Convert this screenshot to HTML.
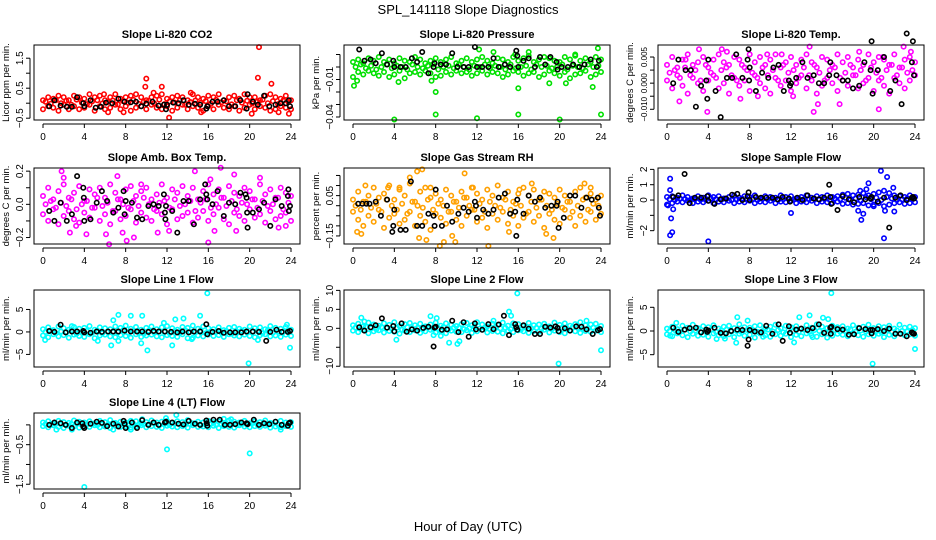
<!DOCTYPE html>
<html><head><meta charset="utf-8"><style>
body{margin:0;background:#fff}
svg{display:block;font-family:"Liberation Sans",Arial,sans-serif}
</style></head><body>
<svg id="chart" width="936" height="540" viewBox="0 0 936 540" xmlns="http://www.w3.org/2000/svg">
<rect width="936" height="540" fill="#fff"/>
<text x="468" y="14" text-anchor="middle" font-size="13">SPL_141118  Slope Diagnostics</text>
<text x="468" y="531" text-anchor="middle" font-size="13">Hour of Day (UTC)</text>
</svg>
<script>
const bandHours=[0,0.5,1,1.5,2,2.5,3,3.5,4,4.5,5,5.5,6,6.5,7,7.5,8,8.5,9,9.5,10,10.5,11,11.5,12,12.5,13,13.5,14,14.5,15,15.5,16,16.5,17,17.5,18,18.5,19,19.5,20,20.5,21,21.5,22,22.5,23,23.5,24];
const midHours=[0.25,0.75,1.25,1.75,2.25,2.75,3.25,3.75,4.25,4.75,5.25,5.75,6.25,6.75,7.25,7.75,8.25,8.75,9.25,9.75,10.25,10.75,11.25,11.75,12.25,12.75,13.25,13.75,14.25,14.75,15.25,15.75,16.25,16.75,17.25,17.75,18.25,18.75,19.25,19.75,20.25,20.75,21.25,21.75,22.25,22.75,23.25,23.75];
const xTicks=[0,4,8,12,16,20,24];

// CO2
const co2A=[0.1,0.2,0.15,0.25,0.2,0.1,0.25,0.2,0.15,0.3,0.2,0.25,0.1,0.2,0.3,0.15,0.2,0.25,0.3,0.2,0.1,0.2,0.25,0.3,0.15,0.2,0.25,0.2,0.1,0.3,0.2,0.15,0.25,0.2,0.3,0.1,0.2,0.25,0.15,0.3,0.2,0.2,0.1,0.25,0.3,0.2,0.15,0.25,0.1];
const co2B=[-0.2,-0.1,-0.15,-0.25,-0.05,-0.2,-0.1,-0.2,-0.15,-0.05,-0.25,-0.1,-0.2,-0.15,-0.05,-0.2,-0.1,-0.25,-0.15,-0.1,-0.2,-0.05,-0.15,-0.2,-0.1,-0.25,-0.15,-0.05,-0.2,-0.1,-0.15,-0.25,-0.1,-0.2,-0.05,-0.15,-0.2,-0.1,-0.25,-0.15,-0.05,-0.2,-0.1,-0.15,-0.25,-0.2,-0.1,-0.15,-0.2];
const co2C=[0.05,-0.02,0.1,0,0.08,-0.05,0.12,0.02,-0.03,0.06,0.1,-0.01,0.04,0.09,-0.04,0.07,0.01,0.11,-0.02,0.05,0.08,0,0.12,-0.03,0.06,0.02,0.1,-0.05,0.04,0.09,0.01,0.07,-0.02,0.11,0.03,0.06,-0.04,0.1,0.02,0.08,-0.01,0.05,0.12,0,0.07,-0.03,0.09,0.04];
const co2Out=[[10,0.82],[9.9,0.55],[11.5,0.55],[10.7,0.35],[14.3,0.35],[12.2,-0.48],[20.9,1.87],[20.8,0.85],[22.1,0.65],[20.2,-0.35],[23.8,-0.35],[6.3,-0.3],[15.3,-0.3],[22.8,-0.3],[5.9,0.3],[7.8,-0.3]];
const co2Blk=[[0.6,-0.1],[1.1,0.1],[1.7,-0.08],[2.3,-0.12],[2.8,-0.12],[3.3,0.2],[3.9,0],[4,-0.1],[4.6,0.1],[5.1,-0.15],[5.6,-0.12],[6.1,0.02],[6.7,0],[7.3,0.15],[7.9,0.05],[8.5,0.03],[9,0.05],[9.5,-0.1],[10,-0.02],[10.6,0.05],[11.2,-0.08],[11.7,-0.05],[11.9,-0.2],[12,-0.05],[12.6,0.02],[13.1,0],[13.6,0.1],[14.1,-0.05],[14.7,-0.02],[15.2,-0.05],[15.8,-0.18],[15.9,-0.1],[16.4,0.05],[16.9,0.05],[17.5,0.1],[18,-0.1],[18.6,-0.1],[19.1,0.1],[19.7,-0.18],[19.8,0.3],[20.3,0.05],[20.8,-0.05],[21.4,0.25],[21.9,-0.1],[22.5,-0.05],[23,0],[23.5,0],[23.8,0.1],[23.9,-0.1]];
// Pressure
const presA=[0.004,0.006,0.003,0.007,0.005,0.008,0.004,0.006,0.003,0.007,0.005,0.004,0.008,0.006,0.003,0.005,0.007,0.004,0.006,0.008,0.003,0.005,0.007,0.004,0.006,0.008,0.005,0.003,0.007,0.006,0.004,0.008,0.005,0.007,0.009,0.004,0.006,0.008,0.007,0.005,0.004,0.008,0.006,0.009,0.005,0.007,0.004,0.008,0.006];
const presB=[-0.008,-0.004,-0.006,-0.003,-0.005,-0.007,-0.004,-0.008,-0.006,-0.003,-0.009,-0.005,-0.004,-0.006,-0.003,-0.005,-0.008,-0.007,-0.004,-0.006,-0.003,-0.005,-0.004,-0.007,-0.005,-0.003,-0.006,-0.004,-0.005,-0.008,-0.006,-0.003,-0.004,-0.007,-0.005,-0.004,-0.008,-0.006,-0.003,-0.005,-0.007,-0.004,-0.009,-0.006,-0.005,-0.003,-0.008,-0.006,-0.004];
const presC=[0,0.002,-0.001,0.001,-0.002,0,0.002,-0.001,0.001,0,-0.002,0.002,0,-0.001,0.001,0.002,-0.002,0,0.001,-0.001,0.002,0,-0.002,0.001,0,0.002,-0.001,0.001,0,-0.002,0.002,-0.001,0,0.001,-0.002,0.002,0,0.001,-0.001,0,0.002,-0.002,0.001,0,-0.001,0.002,0,0.001];
const presOut=[[0.1,-0.015],[4,-0.042],[8,-0.038],[8,-0.02],[12,-0.041],[16,-0.038],[16,-0.017],[20,-0.042],[24,-0.038],[23.2,-0.016],[20.6,-0.013],[19,-0.013],[12.2,0.014],[17,0.012],[23.7,0.015],[13.6,0.012],[21.5,0.01],[7.6,-0.011],[15.7,0.01],[0.4,-0.011],[4.4,-0.012]];
const presBlk=[[0.6,0.014],[1.1,0.005],[1.7,0.006],[2.2,0.003],[2.8,0.011],[3.3,0.002],[3.9,0.005],[4,0],[4.6,0],[5.1,0],[5.7,0.007],[6.2,0.004],[6.7,0.012],[7.3,-0.005],[7.8,0],[7.9,0.003],[8.5,0.002],[9,0.002],[9.6,0.011],[10.1,0],[10.7,0],[11.2,0],[11.8,0.016],[12,0],[12.5,0],[13.1,0],[13.6,0.007],[14.1,0],[14.7,0.002],[15.2,0],[15.8,0.013],[15.9,0.009],[16,0],[16.5,0.005],[17,0.007],[17.6,0],[18.1,0.008],[18.6,0.002],[19.1,0.008],[19.7,0.004],[19.8,-0.002],[20.2,0],[20.8,0],[21.3,0.002],[21.9,0],[22.4,0.002],[23,0.006],[23.6,0],[23.8,0.005]];
// Li-820 Temp
const tempA=[0.002,0.005,0.001,0.004,0.006,0.002,0.003,0.005,0.001,0.004,0.006,0.003,0.002,0.005,0.004,0.001,0.006,0.003,0.005,0.002,0.004,0.006,0.001,0.003,0.005,0.002,0.004,0.006,0.003,0.001,0.005,0.004,0.002,0.006,0.003,0.005,0.001,0.004,0.002,0.006,0.003,0.005,0.004,0.002,0.006,0.001,0.004,0.005,0.003];
const tempB=[-0.004,-0.007,-0.002,-0.006,-0.009,-0.003,-0.005,-0.008,-0.004,-0.002,-0.007,-0.005,-0.009,-0.003,-0.006,-0.004,-0.008,-0.002,-0.005,-0.007,-0.009,-0.003,-0.006,-0.004,-0.008,-0.005,-0.002,-0.007,-0.004,-0.009,-0.006,-0.003,-0.005,-0.008,-0.004,-0.006,-0.002,-0.007,-0.005,-0.003,-0.008,-0.004,-0.006,-0.009,-0.003,-0.005,-0.007,-0.004,-0.002];
const tempC=[-0.001,0,-0.003,0.001,-0.002,0,-0.004,0.002,-0.001,-0.003,0,0.001,-0.002,-0.004,0.002,0,-0.001,-0.003,0.001,-0.002,0,-0.004,0.002,-0.001,0,-0.003,0.001,-0.002,0.002,-0.001,-0.004,0,0.001,-0.003,-0.001,0.002,-0.002,0,-0.004,0.001,-0.001,-0.003,0,0.002,-0.002,0.001,-0.001,0];
const tempOut=[[1.2,-0.012],[3.1,0.008],[3.9,-0.016],[5.3,0.008],[5.8,0.007],[7.1,-0.011],[9.7,0.006],[11.1,0.006],[13.8,0.009],[14.2,-0.016],[14.6,-0.013],[16.7,-0.013],[18.6,0.007],[20.5,-0.015],[22.9,0.009],[23.6,0.007],[20.9,0.005],[1.8,0.004],[12.2,-0.01],[8.8,-0.01]];
const tempBlk=[[0.6,-0.005],[1.1,0.004],[1.8,0],[2.3,0],[2.8,-0.014],[3.3,-0.006],[3.8,-0.004],[3.9,-0.011],[4,0.004],[4.7,-0.008],[5.2,-0.018],[5.8,-0.003],[6.3,-0.003],[6.7,0.006],[7.3,-0.003],[7.8,0.004],[7.9,0.008],[7.95,-0.004],[8,0.001],[8.6,-0.008],[9.2,-0.001],[9.8,-0.003],[10.3,0.001],[10.8,0.002],[11.3,-0.008],[11.8,-0.004],[11.9,-0.006],[12,-0.005],[12.5,-0.003],[13.1,0.003],[13.6,-0.003],[14.2,-0.002],[14.7,-0.005],[15.2,-0.005],[15.7,-0.002],[15.8,0.003],[16.4,-0.002],[17,-0.004],[17.5,-0.004],[18,-0.007],[18.6,-0.006],[19.1,0.003],[19.7,0],[19.8,0.011],[19.9,-0.009],[20.4,0],[21,0.005],[21.6,-0.008],[22.1,-0.004],[22.7,-0.013],[23.2,0.014],[23.7,0.003],[23.8,0.011],[23.9,-0.002]];
// Amb Box Temp
const ambA=[0.05,0.1,0.03,0.08,0.12,0.04,0.07,0.11,0.02,0.09,0.06,0.1,0.04,0.12,0.07,0.03,0.09,0.11,0.05,0.08,0.1,0.03,0.06,0.12,0.04,0.09,0.07,0.11,0.05,0.1,0.03,0.08,0.12,0.06,0.09,0.04,0.11,0.07,0.05,0.1,0.08,0.03,0.12,0.06,0.09,0.04,0.1,0.07,0.05];
const ambB=[-0.06,-0.1,-0.03,-0.12,-0.07,-0.04,-0.09,-0.11,-0.05,-0.08,-0.02,-0.1,-0.06,-0.12,-0.04,-0.09,-0.07,-0.03,-0.11,-0.05,-0.08,-0.1,-0.04,-0.06,-0.12,-0.03,-0.09,-0.07,-0.05,-0.11,-0.08,-0.04,-0.1,-0.06,-0.02,-0.09,-0.12,-0.05,-0.07,-0.1,-0.03,-0.08,-0.06,-0.11,-0.04,-0.09,-0.07,-0.05,-0.1];
const ambC=[0,0.02,-0.02,0.01,-0.01,0.03,-0.03,0,0.02,-0.02,0.04,-0.01,0.01,-0.04,0.03,0,-0.02,0.02,-0.01,0.04,0,-0.03,0.01,0.02,-0.02,0.03,-0.01,0,0.02,-0.04,0.01,0.03,-0.02,0,0.04,-0.01,0.02,-0.03,0.01,0,0.03,-0.02,0.02,-0.01,0,0.04,-0.03,0.01];
const ambOut=[[1.8,0.2],[2,0.16],[2.6,-0.17],[3.2,-0.13],[4.2,-0.18],[6.1,-0.18],[6.4,-0.24],[7.2,0.17],[7.7,-0.17],[8.1,-0.22],[8.8,-0.2],[9.5,0.12],[11.1,-0.17],[12.2,-0.16],[14.7,0.2],[16,-0.23],[16.2,0.15],[17.2,0.22],[18.5,0.18],[18.7,-0.16],[21,0.16],[22.8,-0.14],[23.5,-0.13],[16.6,-0.16]];
const ambBlk=[[0.6,-0.04],[1.1,-0.1],[1.7,0.01],[2.3,-0.1],[2.8,-0.06],[3.3,0.17],[3.9,0.1],[3.95,0.04],[4,-0.1],[4.6,-0.09],[5.2,0.01],[5.7,0.08],[6.2,0.02],[6.8,-0.05],[7.3,-0.02],[7.8,0.08],[7.9,-0.06],[8,0.02],[8.6,0.01],[9.1,-0.08],[9.6,-0.09],[10.2,-0.01],[10.7,0],[11.2,-0.01],[11.7,0.06],[11.8,-0.05],[11.85,-0.09],[11.9,-0.01],[12.5,-0.04],[13,-0.17],[13.6,0.02],[14.1,0.02],[14.6,-0.12],[15.2,0.03],[15.7,0.12],[15.8,0.06],[15.9,0.03],[16.4,0],[16.9,0.08],[17.5,-0.07],[18,0.01],[18.6,0],[19.1,0.07],[19.6,0.06],[19.7,0.04],[19.75,-0.05],[19.8,-0.14],[20.3,-0.05],[20.9,-0.03],[21.4,0.01],[22,-0.13],[22.5,0.03],[23.1,-0.01],[23.7,0.05],[23.75,0.09],[23.8,-0.04],[23.9,-0.01]];
// Gas stream RH
const rhA=[0.03,0.07,0.02,0.05,0.09,0.04,0.06,0.1,0.03,0.08,0.05,0.11,0.02,0.07,0.09,0.04,0.06,0.03,0.08,0.05,0.02,0.07,0.04,0.09,0.06,0.03,0.08,0.05,0.1,0.04,0.07,0.02,0.06,0.09,0.05,0.08,0.03,0.07,0.06,0.04,0.08,0.05,0.02,0.07,0.09,0.04,0.06,0.03,0.05];
const rhB=[-0.03,-0.07,-0.1,-0.05,-0.08,-0.02,-0.11,-0.06,-0.04,-0.09,-0.07,-0.03,-0.1,-0.05,-0.08,-0.12,-0.04,-0.06,-0.09,-0.03,-0.07,-0.1,-0.05,-0.02,-0.08,-0.06,-0.11,-0.04,-0.07,-0.03,-0.09,-0.05,-0.1,-0.06,-0.03,-0.08,-0.05,-0.11,-0.04,-0.07,-0.09,-0.02,-0.06,-0.1,-0.05,-0.08,-0.03,-0.07,-0.04];
const rhC=[0,-0.02,0.02,-0.01,0.01,-0.03,0.03,0,-0.02,0.01,-0.04,0.02,0,-0.01,0.03,-0.02,0.01,0,-0.03,0.02,-0.01,0.04,0,-0.02,0.01,-0.03,0.02,0,-0.01,0.03,-0.02,0.01,0,-0.04,0.02,-0.01,0.03,0,-0.02,0.01,-0.01,0.02,-0.03,0,0.03,-0.02,0.01,0];
const rhOut=[[0.4,-0.13],[0.8,-0.14],[1.2,0.1],[3.4,0.09],[4.5,0.09],[5.5,0.14],[6.2,0.17],[6.7,0.18],[6.4,-0.16],[7.1,-0.17],[7.5,0.09],[8.4,-0.2],[8.8,-0.18],[9.6,-0.15],[9.9,-0.18],[10.8,0.16],[11.6,0.09],[13.1,-0.2],[15.1,-0.13],[16.1,0.08],[17.3,0.11],[18.7,-0.14],[19.4,-0.16],[22.4,0.11],[23,0.09]];
const rhBlk=[[0.5,0.01],[0.9,0.01],[1.3,0.01],[1.6,0.01],[2.2,0.02],[2.7,-0.05],[3.3,0.03],[3.8,-0.13],[3.9,-0.1],[4,-0.02],[4.6,-0.12],[5.1,-0.12],[5.6,0.12],[6.2,-0.1],[6.7,-0.1],[7.3,-0.04],[7.8,-0.05],[7.9,-0.1],[8,0.08],[8.6,-0.1],[9.1,0],[9.6,-0.08],[10.2,-0.04],[10.7,-0.01],[11.2,-0.03],[11.8,0.02],[11.9,0],[12,-0.06],[12.6,-0.02],[13.1,-0.04],[13.6,-0.02],[14.1,0.04],[14.7,0.06],[15.2,-0.04],[15.7,-0.03],[15.8,-0.15],[15.9,0.03],[16.5,-0.04],[17,0.05],[17.6,0.02],[18.1,0.04],[18.6,-0.01],[19.2,0],[19.7,0],[19.8,0.02],[19.9,-0.11],[20.4,-0.06],[21,0.05],[21.5,0.05],[22.1,-0.01],[22.6,0.04],[23.1,0.03],[23.7,0.04],[23.8,-0.01],[23.9,-0.05]];
// Sample Flow
const sfA=[0.2,0.25,0.15,0.3,0.2,0.1,0.25,0.15,0.3,0.2,0.25,0.1,0.2,0.3,0.15,0.25,0.2,0.3,0.1,0.25,0.2,0.15,0.3,0.2,0.25,0.1,0.2,0.3,0.15,0.25,0.2,0.3,0.2,0.25,0.35,0.4,0.3,0.35,0.45,0.3,0.4,0.5,0.6,0.45,0.3,0.25,0.2,0.3,0.2];
const sfB=[-0.3,-0.2,-0.1,-0.15,-0.05,-0.2,-0.1,-0.15,-0.05,-0.2,-0.1,-0.15,-0.05,-0.2,-0.1,-0.15,-0.05,-0.2,-0.1,-0.15,-0.05,-0.2,-0.1,-0.15,-0.05,-0.2,-0.1,-0.15,-0.05,-0.2,-0.1,-0.15,-0.2,-0.1,-0.25,-0.2,-0.3,-0.25,-0.2,-0.35,-0.3,-0.2,-0.4,-0.3,-0.2,-0.15,-0.25,-0.2,-0.15];
const sfC=[0.05,0,0.1,0.05,0,0.08,0.03,0,0.1,0.05,0.02,0.07,0,0.05,0.1,0.02,0.06,0,0.08,0.04,0.1,0,0.05,0.07,0.02,0.09,0,0.05,0.1,0.03,0.06,0,0.1,0.05,0.15,0,0.1,-0.05,0.2,0.05,0.15,0,0.2,0.1,0,0.05,0.1,0.05];
const sfOut=[[0.3,1.4],[0.3,0.65],[0.4,-1.2],[0.3,-2.3],[0.5,-2.1],[0.6,-0.6],[4,-2.7],[12,-0.85],[18.5,-0.7],[18.8,-1.3],[19,-0.9],[19.3,0.7],[19.5,1.1],[20.7,1.9],[21.3,1.5],[21,-2.5],[21.9,0.8],[21.1,-0.7],[22,-0.75],[18.7,0.6],[0.1,-0.35],[20,-0.4]];
const sfBlk=[[0.6,0.2],[1.1,0.3],[1.7,1.7],[2.2,-0.2],[2.7,0.15],[3.3,0.15],[3.9,0.25],[4,-0.05],[4.6,-0.25],[5.2,0.05],[5.7,0.1],[6.3,0.35],[6.8,0.4],[7.3,0],[7.8,0.25],[7.9,0.5],[8,0],[8.6,0.2],[9.1,0.15],[9.6,0.15],[10.2,0.15],[10.7,0.05],[11.2,0.2],[11.8,0.1],[11.9,-0.1],[12.6,0.15],[13.1,0],[13.6,0.3],[14.2,0.1],[14.7,0.05],[15.2,0.15],[15.7,1.0],[15.8,0.2],[15.9,-0.25],[16.5,-0.65],[17,0.25],[17.6,0.05],[18.1,-0.15],[18.6,0.2],[19.2,0.05],[19.7,0.1],[19.8,0.2],[20.4,-0.1],[21,0.15],[21.5,-1.8],[22.1,0.15],[22.6,0.3],[23.2,0],[23.7,0.15],[23.8,0.2],[23.9,0.1]];
// Line 1 Flow
const l1A=[0.6,1.0,0.4,1.2,0.8,0.5,1.1,0.7,0.9,1.3,0.5,1.0,0.8,0.6,1.2,0.9,1.4,0.7,1.1,0.5,0.9,1.2,0.6,1.0,1.3,0.8,0.5,1.1,0.9,1.4,0.7,1.2,0.8,0.6,1.0,0.4,0.9,1.1,0.7,0.5,1.2,0.8,1.0,0.6,1.3,0.9,0.7,1.1,0.5];
const l1B=[-0.8,-1.2,-0.5,-1.0,-0.7,-1.3,-0.6,-0.9,-1.1,-0.5,-1.4,-0.8,-0.6,-1.0,-1.2,-0.7,-0.9,-1.3,-0.5,-1.1,-0.8,-0.6,-1.0,-1.2,-0.7,-0.9,-1.1,-0.5,-1.4,-1.3,-0.8,-1.0,-0.6,-0.9,-0.7,-1.1,-0.5,-0.8,-1.0,-0.6,-0.9,-1.2,-0.7,-0.5,-1.0,-0.8,-1.1,-0.6,-0.9];
const l1C=[0,0.3,-0.3,0.1,-0.1,0.4,-0.4,0,0.2,-0.2,0.3,-0.3,0.1,0,-0.1,0.4,-0.2,0.2,0,-0.4,0.3,-0.1,0.1,0,-0.3,0.2,-0.2,0.4,0,-0.1,0.3,-0.3,0.1,0,-0.2,0.2,-0.4,0.1,0.3,-0.1,0,0.2,-0.3,0.4,-0.2,0.1,0,-0.1];
const l1Out=[[0.2,-1.8],[6.8,2.6],[7.3,3.8],[8.5,3.6],[9.6,3.6],[9.5,-2.5],[10.1,-4.1],[7.3,-2],[5.3,-2],[6.6,-3],[12.5,-3],[12.8,2.8],[13.6,3],[15.2,3.6],[15.9,8.6],[19.9,-7],[23.9,-3.5],[20.8,-1.8],[23.6,1.6],[11.7,2],[2.8,1.3],[14.4,-1.6]];
const l1Blk=[[0.6,0.2],[1.1,0],[1.7,1.6],[2.2,-0.1],[2.8,0.1],[3.3,0.1],[3.9,0.2],[4,-0.1],[4.6,-0.2],[5.2,0.1],[5.7,0],[6.3,0.1],[6.8,0.1],[7.3,0.1],[7.9,0.3],[8.5,0.1],[9.1,0.1],[9.6,0.1],[10.2,0],[10.7,0.2],[11.2,0.1],[11.8,0.1],[12.4,0],[13,-0.1],[13.5,0.1],[14.1,-0.1],[14.6,0.1],[15.2,0.1],[15.8,1.7],[15.9,-0.5],[16.4,0],[17,0.2],[17.5,-0.2],[18.1,-0.1],[18.6,-0.1],[19.2,-0.1],[19.7,0.1],[20.3,0.1],[20.9,0],[21.6,-2],[22,0],[22.6,0.5],[23.1,0],[23.7,0],[23.9,0.2]];
// Line 2 Flow
const l2A=[0.8,1.2,0.5,1.5,1.0,0.7,1.3,0.9,1.6,0.6,1.1,1.4,0.8,1.2,0.5,1.0,1.5,0.7,1.3,0.9,0.6,1.1,1.4,0.8,1.6,1.0,0.5,1.2,0.9,1.5,0.7,1.3,1.1,0.6,1.4,0.8,1.0,1.2,0.5,1.5,0.9,1.3,0.7,1.1,1.6,0.8,1.0,1.2,0.6];
const l2B=[-0.6,-1.0,-0.4,-1.3,-0.8,-0.5,-1.1,-0.7,-0.9,-1.4,-0.6,-1.0,-0.5,-1.2,-0.8,-0.4,-1.1,-0.7,-1.3,-0.6,-0.9,-1.0,-0.5,-1.2,-0.8,-0.4,-1.1,-0.7,-0.9,-1.3,-0.6,-1.0,-0.5,-0.8,-1.2,-0.7,-0.9,-0.4,-1.1,-0.6,-1.0,-1.3,-0.5,-0.8,-1.2,-0.7,-0.9,-0.6,-1.0];
const l2C=[0.2,-0.2,0.4,0,-0.3,0.3,0.1,-0.1,0.2,-0.4,0.3,0,0.1,-0.2,0.4,-0.1,0,0.3,-0.3,0.2,0.1,-0.2,0,0.4,-0.1,0.2,-0.3,0.3,0,0.1,-0.2,0.2,-0.4,0.3,0,0.1,-0.1,0.4,-0.2,0,0.2,-0.3,0.3,0.1,-0.1,0,0.2,-0.2];
const l2Out=[[0.8,2.8],[4.2,-3],[7.5,3.2],[8.1,2.7],[9.3,-3.8],[10.1,-4.1],[10.3,-3.4],[15.1,4.4],[15.3,3.3],[15.9,9.2],[19.9,-9.3],[24,-5.8],[7.8,-1.8],[1.1,1.8],[13.6,2],[22.6,2],[8.5,-2]];
const l2Blk=[[0.6,0.3],[1.1,-0.6],[1.7,0.3],[2.2,0.8],[2.8,2.6],[3.3,0.2],[3.9,0.6],[4,-0.8],[4.7,1.3],[5.2,-0.9],[5.7,-0.3],[6.2,-0.6],[6.8,0.1],[7.3,0.4],[7.8,-4.8],[7.9,0.2],[8,0.4],[8.6,-0.4],[9.1,-0.3],[9.6,2],[10.2,-1],[10.7,1.6],[11.2,-2.2],[11.8,1.3],[11.9,-0.3],[12.5,-0.4],[13.1,1.1],[13.6,-0.2],[14.1,1],[14.6,3.3],[15.1,-1.8],[15.7,1.1],[15.8,0.3],[15.9,-0.4],[16.5,0.8],[17,-0.1],[17.6,-1.5],[18.1,-1.5],[18.6,0.4],[19.1,0.2],[19.6,0.5],[19.8,0.1],[19.9,-0.8],[20.5,0],[21,-0.6],[21.6,0.5],[22.1,0.4],[22.6,-0.3],[23.2,-1.5],[23.7,-0.5],[23.9,-0.2]];
// Line 3 Flow
const l3A=[0.5,0.9,0.4,1.1,0.7,1.3,0.6,1.0,0.8,1.2,0.5,0.9,1.1,0.6,1.4,0.8,0.7,1.0,1.2,0.5,0.9,1.3,0.6,1.1,0.8,1.0,0.5,1.2,0.7,1.4,0.9,0.6,1.1,0.8,1.0,0.5,1.2,0.7,0.9,1.3,0.6,1.0,0.8,1.1,0.5,1.3,0.7,0.9,0.6];
const l3B=[-0.7,-1.1,-0.5,-0.9,-1.3,-0.6,-1.0,-0.8,-1.2,-0.5,-0.9,-1.1,-0.7,-1.3,-0.6,-1.0,-0.8,-1.4,-0.5,-0.9,-1.2,-0.7,-1.0,-0.6,-1.3,-0.8,-1.1,-0.5,-0.9,-1.2,-0.7,-1.4,-1.0,-0.6,-0.8,-1.1,-0.5,-0.9,-1.2,-0.7,-1.0,-0.6,-1.3,-0.8,-1.1,-0.5,-0.9,-0.7,-1.0];
const l3C=[0,0.2,-0.2,0.3,-0.1,0.1,-0.3,0,0.2,-0.2,0.1,0.3,-0.1,0,-0.3,0.2,0.1,-0.2,0,0.3,-0.1,0.2,-0.3,0.1,0,-0.2,0.3,-0.1,0.2,0,-0.3,0.1,0.2,-0.1,0,0.3,-0.2,0.1,-0.1,0.2,0,-0.3,0.3,-0.2,0.1,0,-0.1,0.2];
const l3Out=[[6.8,2.9],[6.7,-2.5],[7.8,2.2],[12.3,-2.4],[12.8,2.9],[13.8,3.3],[15.1,2.8],[15.6,2.5],[15.9,8],[19.9,-6.9],[24,-3.8],[0.3,-1],[0.9,1.7],[4.8,-1.7],[5.6,-1.6],[9.3,-1.2],[14.1,-1.3]];
const l3Blk=[[0.6,0.7],[1.1,-0.2],[1.7,0.3],[2.2,0.6],[2.8,0.7],[3.3,-0.3],[3.8,0.3],[3.9,-0.2],[4,0.1],[4.6,0.7],[5.2,-0.4],[5.7,-0.5],[6.2,0],[6.8,0.3],[7.3,0.2],[7.8,-3.1],[7.9,-1.8],[8,0.2],[8.5,-0.1],[9.1,-0.3],[9.6,1.1],[10.2,-0.6],[10.8,1.4],[11.2,-2.1],[11.8,1],[11.9,-0.4],[12.5,0.3],[13,0.5],[13.6,0.2],[14.1,0.6],[14.7,1.4],[15.2,-0.4],[15.8,0.7],[15.85,-0.6],[15.9,0.9],[16.5,0.4],[17,0.3],[17.6,-0.8],[18.1,-0.7],[18.6,0.6],[19.2,0.4],[19.7,0.2],[19.8,-0.5],[19.9,0.2],[20.4,0.4],[21,0],[21.5,0.5],[22.1,-0.6],[22.6,-0.6],[23.2,-1.1],[23.7,-0.3],[23.8,-0.5],[23.9,-0.6]];
// Line 4 Flow
const l4A=[0.06,0.09,0.04,0.1,0.07,0.05,0.11,0.08,0.06,0.09,0.04,0.1,0.07,0.12,0.05,0.08,0.06,0.1,0.09,0.04,0.07,0.11,0.06,0.08,0.1,0.05,0.09,0.07,0.12,0.04,0.08,0.06,0.1,0.07,0.09,0.05,0.11,0.08,0.06,0.1,0.04,0.09,0.07,0.11,0.05,0.08,0.1,0.06,0.07];
const l4B=[-0.03,-0.06,-0.01,-0.05,-0.08,-0.02,-0.04,-0.07,-0.03,-0.05,-0.01,-0.06,-0.04,-0.08,-0.02,-0.05,-0.03,-0.07,-0.04,-0.01,-0.06,-0.03,-0.05,-0.08,-0.02,-0.04,-0.06,-0.03,-0.07,-0.01,-0.05,-0.04,-0.06,-0.02,-0.08,-0.03,-0.05,-0.07,-0.01,-0.04,-0.06,-0.03,-0.05,-0.02,-0.07,-0.04,-0.06,-0.03,-0.05];
const l4C=[0.02,0,0.03,0.01,-0.01,0.02,0.04,0,0.01,0.03,-0.01,0.02,0,0.04,0.01,0.02,-0.01,0.03,0,0.02,0.01,0.04,-0.01,0.02,0,0.03,0.01,0,0.02,0.04,-0.01,0.01,0.03,0,0.02,0.01,0.03,-0.01,0.02,0,0.04,0.01,0.02,0,0.03,0.01,0,0.02];
const l4Out=[[4,-1.57],[12,-0.62],[20,-0.72],[12.9,0.25],[1.3,-0.12],[2.8,-0.12],[6.8,-0.12],[8.5,-0.12],[11.9,0.17],[17.5,0.15],[18.2,0.14],[23,-0.12],[9.6,0.14]];
const l4Blk=[[0.6,0],[1.1,0.06],[1.7,0.04],[2.2,0],[2.8,-0.08],[3.3,0.06],[3.8,0.04],[3.9,-0.04],[4,-0.08],[4.6,0.03],[5.2,0.08],[5.7,0.05],[6.2,-0.03],[6.8,0.03],[7.3,-0.04],[7.8,0.1],[7.9,0.03],[8,-0.08],[8.6,0.06],[9.1,-0.08],[9.6,0.12],[10.2,0],[10.7,0.06],[11.2,0],[11.8,0.06],[11.9,0.08],[12.5,0.06],[13.1,0.03],[13.6,0.01],[14.1,0.1],[14.7,0.03],[15.2,0],[15.8,0.11],[15.85,0.04],[15.9,-0.02],[16.5,0.13],[17.1,0.13],[17.6,0],[18.1,0],[18.6,0.02],[19.2,0.06],[19.7,0.04],[19.8,0.02],[20.4,0.13],[20.9,0],[21.4,0.04],[21.9,0.02],[22.5,0.08],[23.1,0],[23.7,-0.02],[23.8,0.04],[23.9,0.06]];

const yTickVals1=[-0.5,0,0.5,1,1.5], yTickLab1=["-0.5","","0.5","","1.5"];
const yTickVals2=[-0.04,-0.03,-0.02,-0.01,0,0.01], yTickLab2=["-0.04","","","-0.01","",""];
const yTickVals3=[-0.015,-0.01,-0.005,0,0.005], yTickLab3=["-0.010","","0.000","","0.005"];
const yTickVals4=[-0.2,-0.1,0,0.1,0.2], yTickLab4=["-0.2","","0.0","","0.2"];
const yTickVals5=[-0.15,-0.1,-0.05,0,0.05,0.1,0.15], yTickLab5=["-0.15","","","","0.05","",""];
const yTickVals6=[-2,-1,0,1,2], yTickLab6=["-2","","0","1","2"];
const yTickVals7=[-5,0,5], yTickLab7=["-5","0","5"];
const yTickVals8=[-10,-5,0,5,10], yTickLab8=["-10","","0","5","10"];
const yTickVals9=[-5,0,5], yTickLab9=["-5","0","5"];
const yTickVals10=[-1.5,-1,-0.5,0], yTickLab10=["-1.5","","-0.5",""];

const cols=[34,344,658], rows=[[45,120],[168,244],[290,367],[413,489]];
const panels=[
 {name:"co2",title:"Slope Li-820 CO2",ylab:"Licor ppm per min.",c:0,r:0,ymin:-0.56,ymax:1.94,color:"#ff0000",A:co2A,B:co2B,C:co2C,out:co2Out,blk:co2Blk,tv:yTickVals1,tl:yTickLab1,fs:10},
 {name:"pressure",title:"Slope Li-820 Pressure",ylab:"kPa per min.",c:1,r:0,ymin:-0.0424,ymax:0.0176,color:"#00e000",A:presA,B:presB,C:presC,out:presOut,blk:presBlk,tv:yTickVals2,tl:yTickLab2,fs:10},
 {name:"li820-temp",title:"Slope Li-820 Temp.",ylab:"degrees C per min.",c:2,r:0,ymin:-0.0191,ymax:0.0096,color:"#ff00ff",A:tempA,B:tempB,C:tempC,out:tempOut,blk:tempBlk,tv:yTickVals3,tl:yTickLab3,fs:8},
 {name:"amb-box-temp",title:"Slope Amb. Box Temp.",ylab:"degrees C per min.",c:0,r:1,ymin:-0.239,ymax:0.219,color:"#ff00ff",A:ambA,B:ambB,C:ambC,out:ambOut,blk:ambBlk,tv:yTickVals4,tl:yTickLab4,fs:10},
 {name:"gas-stream-rh",title:"Slope Gas Stream RH",ylab:"percent per min.",c:1,r:1,ymin:-0.19,ymax:0.187,color:"#ffa000",A:rhA,B:rhB,C:rhC,out:rhOut,blk:rhBlk,tv:yTickVals5,tl:yTickLab5,fs:10},
 {name:"sample-flow",title:"Slope Sample Flow",ylab:"ml/min per min.",c:2,r:1,ymin:-2.87,ymax:2.09,color:"#0000ff",A:sfA,B:sfB,C:sfC,out:sfOut,blk:sfBlk,tv:yTickVals6,tl:yTickLab6,fs:10},
 {name:"line1-flow",title:"Slope Line 1 Flow",ylab:"ml/min per min.",c:0,r:2,ymin:-7.8,ymax:9.33,color:"#00ffff",A:l1A,B:l1B,C:l1C,out:l1Out,blk:l1Blk,tv:yTickVals7,tl:yTickLab7,fs:10},
 {name:"line2-flow",title:"Slope Line 2 Flow",ylab:"ml/min per min.",c:1,r:2,ymin:-10.2,ymax:10.1,color:"#00ffff",A:l2A,B:l2B,C:l2C,out:l2Out,blk:l2Blk,tv:yTickVals8,tl:yTickLab8,fs:10},
 {name:"line3-flow",title:"Slope Line 3 Flow",ylab:"ml/min per min.",c:2,r:2,ymin:-7.6,ymax:8.65,color:"#00ffff",A:l3A,B:l3B,C:l3C,out:l3Out,blk:l3Blk,tv:yTickVals9,tl:yTickLab9,fs:10},
 {name:"line4-flow",title:"Slope Line 4 (LT) Flow",ylab:"ml/min per min.",c:0,r:3,ymin:-1.62,ymax:0.30,color:"#00ffff",A:l4A,B:l4B,C:l4C,out:l4Out,blk:l4Blk,tv:yTickVals10,tl:yTickLab10,fs:10}
];
const NS="http://www.w3.org/2000/svg", svg=document.getElementById('chart');
function mk(tag,attrs,parent){const e=document.createElementNS(NS,tag);for(const k in attrs)e.setAttribute(k,attrs[k]);parent.appendChild(e);return e;}
panels.forEach(p=>{
  const L=cols[p.c],R=L+266,T=rows[p.r][0],B=rows[p.r][1];
  const xs=v=>L+9+v*(248/24);
  const ys=v=>B-(v-p.ymin)/(p.ymax-p.ymin)*(B-T);
  const g=mk('g',{},svg);
  
  
  const t=mk('text',{x:(L+R)/2,y:T-7,'text-anchor':'middle','font-size':11,'font-weight':'bold'},g);
  t.textContent=p.title;
  
  
  const pts=mk('g',{fill:'none','stroke-width':1.6},g);
  
  
  const dot=(x,y,col)=>{const c=mk('circle',{cx:xs(x).toFixed(1),cy:ys(y).toFixed(1),r:2.2,stroke:col},pts);
    
    };
  bandHours.forEach((h,i)=>{dot(h,p.A[i],p.color);dot(h,p.B[i],p.color);});
  midHours.forEach((h,i)=>{dot(h,p.C[i],p.color);});
  p.out.forEach(d=>dot(d[0],d[1],p.color));
  p.blk.forEach(d=>dot(d[0],d[1],'#000'));
  const box=mk('rect',{x:L,y:T,width:R-L,height:B-T,fill:'none',stroke:'#000','stroke-width':1},g);
  
  
  const ax=mk('g',{stroke:'#000','stroke-width':1},g);
  
  
  mk('line',{x1:xs(0),x2:xs(24),y1:B+4,y2:B+4},ax);
  xTicks.forEach(v=>{mk('line',{x1:xs(v),x2:xs(v),y1:B+4,y2:B+8},ax);
    const tx=mk('text',{x:xs(v),y:B+20,'text-anchor':'middle','font-size':10,stroke:'none',fill:'#000'},ax);tx.textContent=v;
    
    });
  mk('line',{x1:L-4,x2:L-4,y1:ys(p.tv[0]),y2:ys(p.tv[p.tv.length-1])},ax);
  p.tv.forEach((v,i)=>{const y=ys(v);mk('line',{x1:L-8,x2:L-4,y1:y,y2:y},ax);
    if(p.tl[i]){const ty=mk('text',{x:0,y:0,transform:`translate(${L-11},${y}) rotate(-90)`,'text-anchor':'middle','font-size':p.fs,stroke:'none',fill:'#000'},ax);ty.textContent=p.tl[i].replace('-','\u2212');
      
      }});
  const yl=mk('text',{transform:`translate(${L-25},${(T+B)/2}) rotate(-90)`,'text-anchor':'middle','font-size':9.5},g);
  yl.textContent=p.ylab;
  
  
});
</script>
</body></html>
